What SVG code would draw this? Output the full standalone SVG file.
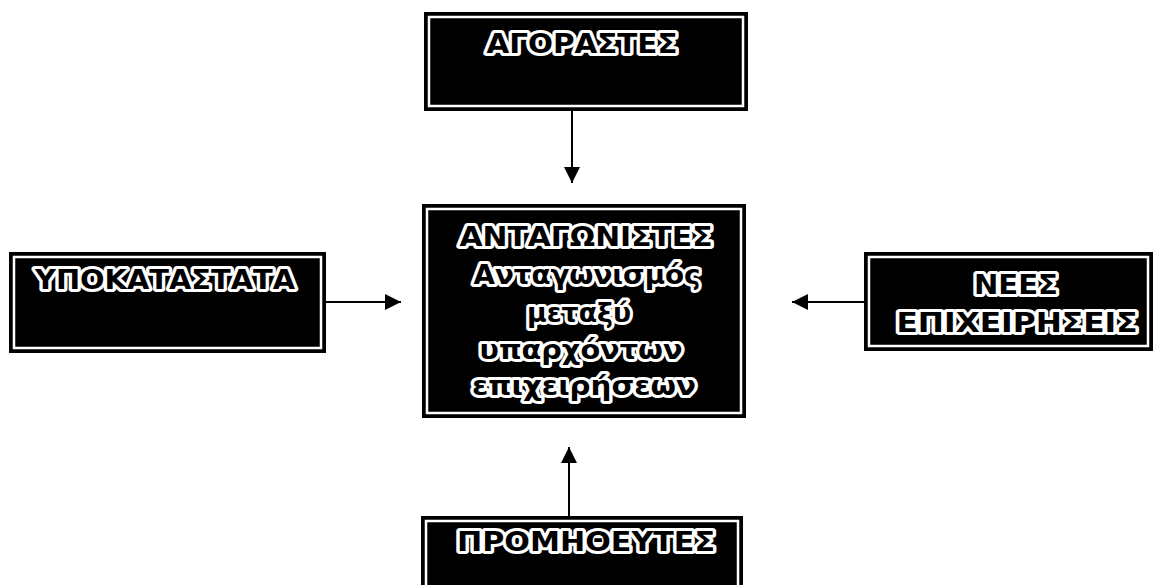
<svg xmlns="http://www.w3.org/2000/svg" width="1155" height="585" viewBox="0 0 1155 585">
<defs>
<style>
.box{fill:#000;stroke:#000;stroke-width:2}
.inner{fill:none;stroke:#fff;stroke-width:2.5}
.t{font-family:"DejaVu Sans","Noto Sans",sans-serif;font-weight:bold;font-size:26px;fill:#000;stroke:#fff;stroke-width:6;stroke-linejoin:round;paint-order:stroke;text-anchor:middle}
.c{stroke:#000;stroke-width:2;fill:none;marker-end:url(#ah)}
</style>
<marker id="ah" viewBox="0 0 10 10" refX="10" refY="5" markerWidth="16" markerHeight="16" markerUnits="userSpaceOnUse" orient="auto">
<path d="M0,0 L10,5 L0,10 z" fill="#000"/>
</marker>
</defs>
<rect width="1155" height="585" fill="#fff"/>
<g id="buyers">
<rect class="box" x="425" y="13" width="322" height="97"/>
<rect class="inner" x="429" y="17" width="314" height="89"/>
<text class="t" x="582" y="53" textLength="191" lengthAdjust="spacingAndGlyphs">ΑΓΟΡΑΣΤΕΣ</text>
</g>
<g id="competitors">
<rect class="box" x="423" y="205" width="322" height="212"/>
<rect class="inner" x="427" y="209" width="314" height="204"/>
<text class="t" x="586" y="246" textLength="253" lengthAdjust="spacingAndGlyphs">ΑΝΤΑΓΩΝΙΣΤΕΣ</text>
<text class="t" x="587" y="284" textLength="227" lengthAdjust="spacingAndGlyphs">Ανταγωνισμός</text>
<text class="t" x="579" y="322" textLength="104" lengthAdjust="spacingAndGlyphs">μεταξύ</text>
<text class="t" x="581" y="359" textLength="203" lengthAdjust="spacingAndGlyphs">υπαρχόντων</text>
<text class="t" x="584" y="395" textLength="224" lengthAdjust="spacingAndGlyphs">επιχειρήσεων</text>
</g>
<g id="substitutes">
<rect class="box" x="10" y="253" width="315" height="99"/>
<rect class="inner" x="14" y="257" width="307" height="91"/>
<text class="t" x="165" y="289" textLength="260" lengthAdjust="spacingAndGlyphs">ΥΠΟΚΑΤΑΣΤΑΤΑ</text>
</g>
<g id="newentrants">
<rect class="box" x="865" y="253" width="287" height="97"/>
<rect class="inner" x="869" y="257" width="279" height="89"/>
<text class="t" x="1016" y="294" textLength="84" lengthAdjust="spacingAndGlyphs">ΝΕΕΣ</text>
<text class="t" x="1017" y="332" textLength="241" lengthAdjust="spacingAndGlyphs">ΕΠΙΧΕΙΡΗΣΕΙΣ</text>
</g>
<g id="suppliers">
<rect class="box" x="422" y="517" width="320" height="80"/>
<rect class="inner" x="426" y="521" width="312" height="80"/>
<text class="t" x="586" y="551" textLength="258" lengthAdjust="spacingAndGlyphs">ΠΡΟΜΗΘΕΥΤΕΣ</text>
</g>
<g id="connectors">
<line class="c" x1="572" y1="110" x2="572" y2="183"/>
<line class="c" x1="569" y1="517" x2="569" y2="447"/>
<line class="c" x1="325" y1="302" x2="401" y2="302"/>
<line class="c" x1="865" y1="302" x2="792" y2="302"/>
</g>
</svg>
